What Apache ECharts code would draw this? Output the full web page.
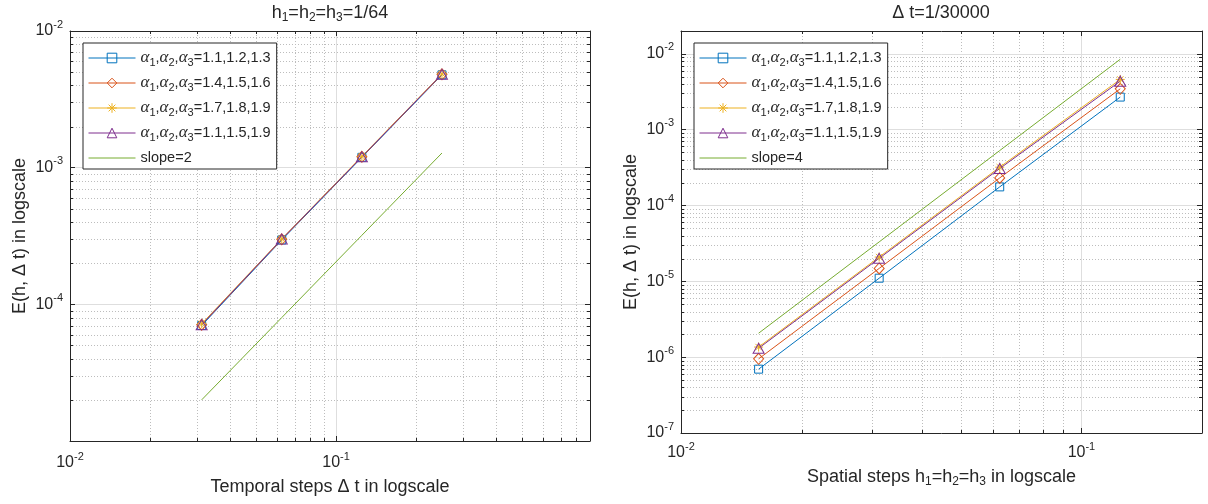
<!DOCTYPE html>
<html>
<head>
<meta charset="utf-8">
<script src="https://cdn.jsdelivr.net/npm/echarts@6/dist/echarts.min.js"></script>
<style>
  html, body { margin: 0; padding: 0; background: #fff; }
  #chart { width: 1208px; height: 504px; }
</style>
</head>
<body>
<div id="chart"></div>
<script>
// Convergence study: temporal order (left) and spatial order (right), log-log axes.

// ---- data ----
const dtSteps = [1 / 32, 1 / 16, 1 / 8, 1 / 4];          // temporal steps Δt
const hSteps  = [1 / 64, 1 / 32, 1 / 16, 1 / 8];          // spatial steps h1=h2=h3

const seriesNames = [
  'α1,α2,α3=1.1,1.2,1.3',
  'α1,α2,α3=1.4,1.5,1.6',
  'α1,α2,α3=1.7,1.8,1.9',
  'α1,α2,α3=1.1,1.5,1.9'
];

// errors vs Δt (h1=h2=h3=1/64)
const errDtA = [7.0e-5, 2.96e-4, 1.19e-3, 4.78e-3];
const errDtB = [7.1e-5, 2.99e-4, 1.20e-3, 4.82e-3];
const errDtC = [7.2e-5, 3.01e-4, 1.21e-3, 4.85e-3];
const errDtD = [7.1e-5, 3.00e-4, 1.20e-3, 4.83e-3];
const slope2Ref = [2.0e-5, 8.0e-5, 3.2e-4, 1.28e-3];

// errors vs h (Δt=1/30000)
const errHA = [6.95e-7, 1.10e-5, 1.76e-4, 2.69e-3];
const errHB = [9.5e-7, 1.48e-5, 2.31e-4, 3.46e-3];
const errHC = [1.36e-6, 2.09e-5, 3.20e-4, 4.60e-3];
const errHD = [1.31e-6, 2.01e-5, 3.07e-4, 4.36e-3];
const slope4Ref = [2.07e-6, 3.31e-5, 5.30e-4, 8.48e-3];

// axis ranges
const leftX = [0.01, 0.9], leftY = [1e-5, 1e-2];
const rightX = [0.01, 0.2], rightY = [1e-7, 2e-2];

// labelled decades (exponents of 10)
const leftXTicks = [-2, -1];
const leftYTicks = [-4, -3, -2];
const rightXTicks = [-2, -1];
const rightYTicks = [-7, -6, -5, -4, -3, -2];

// minor grid positions (2..9 within each decade)
const minorLeftX  = [0.02, 0.03, 0.04, 0.05, 0.06, 0.07, 0.08, 0.09, 0.2, 0.3, 0.4, 0.5, 0.6, 0.7, 0.8];
const minorLeftY  = [2e-5, 3e-5, 4e-5, 5e-5, 6e-5, 7e-5, 8e-5, 9e-5,
                     2e-4, 3e-4, 4e-4, 5e-4, 6e-4, 7e-4, 8e-4, 9e-4,
                     2e-3, 3e-3, 4e-3, 5e-3, 6e-3, 7e-3, 8e-3, 9e-3];
const minorRightX = [0.02, 0.03, 0.04, 0.05, 0.06, 0.07, 0.08, 0.09];
const minorRightY = [2e-7, 3e-7, 4e-7, 5e-7, 6e-7, 7e-7, 8e-7, 9e-7,
                     2e-6, 3e-6, 4e-6, 5e-6, 6e-6, 7e-6, 8e-6, 9e-6,
                     2e-5, 3e-5, 4e-5, 5e-5, 6e-5, 7e-5, 8e-5, 9e-5,
                     2e-4, 3e-4, 4e-4, 5e-4, 6e-4, 7e-4, 8e-4, 9e-4,
                     2e-3, 3e-3, 4e-3, 5e-3, 6e-3, 7e-3, 8e-3, 9e-3];

// ---- styling ----
const FONT = '"Liberation Sans", Arial, Helvetica, sans-serif';
const INK = '#262626';
const COLORS = ['#0072BD', '#D95319', '#EDB120', '#7E2F8E', '#77AC30'];
const STAR = 'path://M5 0L5 10M0 5L10 5M1.5 1.5L8.5 8.5M1.5 8.5L8.5 1.5';
const MARKERS = [
  { symbol: 'rect', size: 8 },
  { symbol: 'diamond', size: [10, 11] },
  { symbol: STAR, size: 9 },
  { symbol: 'triangle', size: [11, 10] }
];
const GRID_MAJOR = '#dedede';
const GRID_MINOR = '#bdbdbd';
const CLEAR = 'rgba(0,0,0,0)';

const subRich = {
  a: { fontFamily: '"Liberation Serif", serif', fontStyle: 'italic', fontSize: 17, color: INK },
  s: { fontSize: 11, lineHeight: 10, verticalAlign: 'bottom', color: INK }
};
const alphaText = name => name.replace(/α(\d)/g, '{a|α}{s|$1}');

function decadeFormatter(shown) {
  return function (v) {
    const e = Math.log10(v);
    const r = Math.round(e);
    if (Math.abs(e - r) > 1e-6 || shown.indexOf(r) < 0) return '';
    return '{b|10}{e|' + r + '}';
  };
}
const tickRich = {
  b: { fontSize: 16, lineHeight: 24, color: INK, fontFamily: FONT },
  e: { fontSize: 11, lineHeight: 11, verticalAlign: 'top', color: INK, fontFamily: FONT }
};

function logAxis(gridIndex, range, position, shown, extra, margin) {
  return Object.assign({
    type: 'log', logBase: 10, gridIndex, position,
    min: range[0], max: range[1],
    axisLine: { show: true, lineStyle: { color: INK, width: 1 } },
    axisTick: { show: true, inside: true, length: 5, lineStyle: { color: INK } },
    axisLabel: shown
      ? { show: true, formatter: decadeFormatter(shown), rich: tickRich, margin: margin || 7, hideOverlap: false }
      : { show: false },
    splitLine: shown
      ? { show: true, lineStyle: { color: GRID_MAJOR, width: 1 } }
      : { show: false },
    minorTick: { show: false },
    minorSplitLine: { show: false },
    z: 1
  }, extra || {});
}

function dataSeries(name, xs, ys, color, marker, xi, yi) {
  return {
    type: 'line', name,
    xAxisIndex: xi, yAxisIndex: yi,
    data: xs.map((x, i) => [x, ys[i]]),
    symbol: marker ? marker.symbol : 'none',
    symbolSize: marker ? marker.size : 0,
    showSymbol: !!marker,
    lineStyle: { color, width: 1 },
    itemStyle: { color: CLEAR, borderColor: color, borderWidth: 1 },
    emphasis: { disabled: true },
    animation: false,
    z: 3
  };
}

function legendData(extraName) {
  return seriesNames.map((n, i) => ({
    name: n,
    itemStyle: { color: CLEAR, borderColor: COLORS[i], borderWidth: 1 },
    lineStyle: { color: COLORS[i], width: 1 }
  })).concat([{
    name: extraName,
    itemStyle: { color: CLEAR, borderColor: CLEAR, borderWidth: 0 },
    lineStyle: { color: COLORS[4], width: 1 }
  }]);
}

function legendAt(left, top, extraName) {
  return {
    orient: 'vertical', left, top,
    data: legendData(extraName),
    selectedMode: false,
    itemWidth: 47, itemHeight: 12, itemGap: 5,
    padding: [5, 6, 1, 5],
    backgroundColor: '#fff', borderColor: INK, borderWidth: 1, borderRadius: 0,
    textStyle: { fontFamily: FONT, fontSize: 14.5, color: INK, lineHeight: 20, rich: subRich },
    formatter: alphaText,
    z: 10
  };
}

const nameStyle = {
  fontFamily: FONT, fontSize: 18, color: INK, lineHeight: 22,
  rich: { s: { fontSize: 12, lineHeight: 12, verticalAlign: 'bottom', color: INK, fontFamily: FONT } }
};

const option = {
  backgroundColor: '#fff',
  animation: false,
  textStyle: { fontFamily: FONT },
  grid: [
    { left: 70, top: 31, width: 520, height: 410, containLabel: false },
    { left: 681, top: 31, width: 521, height: 402, containLabel: false }
  ],
  xAxis: [
    logAxis(0, leftX, 'bottom', leftXTicks, {
      name: 'Temporal steps Δ t in logscale', nameLocation: 'middle', nameGap: 35, nameTextStyle: nameStyle
    }, 10),
    logAxis(0, leftX, 'top', null),
    logAxis(1, rightX, 'bottom', rightXTicks, {
      name: 'Spatial steps h{s|1}=h{s|2}=h{s|3} in logscale', nameLocation: 'middle', nameGap: 33, nameTextStyle: nameStyle
    }, 8),
    logAxis(1, rightX, 'top', null)
  ],
  yAxis: [
    logAxis(0, leftY, 'left', leftYTicks, {
      name: 'E(h, Δ t) in logscale', nameLocation: 'middle', nameGap: 39, nameRotate: 90, nameTextStyle: nameStyle
    }),
    logAxis(0, leftY, 'right', null),
    logAxis(1, rightY, 'left', rightYTicks, {
      name: 'E(h, Δ t) in logscale', nameLocation: 'middle', nameGap: 39, nameRotate: 90, nameTextStyle: nameStyle
    }),
    logAxis(1, rightY, 'right', null)
  ],
  legend: [legendAt(83, 43, 'slope=2'), legendAt(694, 43, 'slope=4')],
  series: [
    dataSeries(seriesNames[0], dtSteps, errDtA, COLORS[0], MARKERS[0], 0, 0),
    dataSeries(seriesNames[1], dtSteps, errDtB, COLORS[1], MARKERS[1], 0, 0),
    dataSeries(seriesNames[2], dtSteps, errDtC, COLORS[2], MARKERS[2], 0, 0),
    dataSeries(seriesNames[3], dtSteps, errDtD, COLORS[3], MARKERS[3], 0, 0),
    dataSeries('slope=2', dtSteps, slope2Ref, COLORS[4], null, 0, 0),
    dataSeries(seriesNames[0], hSteps, errHA, COLORS[0], MARKERS[0], 2, 2),
    dataSeries(seriesNames[1], hSteps, errHB, COLORS[1], MARKERS[1], 2, 2),
    dataSeries(seriesNames[2], hSteps, errHC, COLORS[2], MARKERS[2], 2, 2),
    dataSeries(seriesNames[3], hSteps, errHD, COLORS[3], MARKERS[3], 2, 2),
    dataSeries('slope=4', hSteps, slope4Ref, COLORS[4], null, 2, 2)
  ]
};

const chart = echarts.init(document.getElementById('chart'), null, { renderer: 'canvas' });
chart.setOption(option);

// Titles above each panel.
const titles = [
  {
    type: 'text', x: 330, y: 13, silent: true, z: 30,
    style: {
      text: 'h{s|1}=h{s|2}=h{s|3}=1/64', align: 'center', verticalAlign: 'middle',
      font: '18px ' + FONT, fill: INK, lineHeight: 22,
      rich: { s: { fontSize: 12, lineHeight: 12, verticalAlign: 'bottom', fill: INK, fontFamily: FONT } }
    }
  },
  {
    type: 'text', x: 941, y: 13, silent: true, z: 30,
    style: { text: 'Δ t=1/30000', align: 'center', verticalAlign: 'middle', font: '18px ' + FONT, fill: INK }
  }
];

// Dotted minor grid and short minor ticks on all four sides, placed through each grid's axes.
function minorMarks(xi, yi, xRange, yRange, xVals, yVals, len) {
  const out = [];
  const px = (x, y) => chart.convertToPixel({ xAxisIndex: xi, yAxisIndex: yi }, [x, y]);
  const bl = px(xRange[0], yRange[0]);
  const tr = px(xRange[1], yRange[1]);
  const tickSt = { stroke: INK, lineWidth: 1 };
  const gridSt = { stroke: GRID_MINOR, lineWidth: 1, lineDash: [1, 2] };
  xVals.forEach(v => {
    const x = Math.round(px(v, yRange[0])[0]) + 0.5;
    out.push({ type: 'line', silent: true, z: 0, shape: { x1: x, y1: bl[1], x2: x, y2: tr[1] }, style: gridSt });
    out.push({ type: 'line', silent: true, z: 20, shape: { x1: x, y1: bl[1], x2: x, y2: bl[1] - len }, style: tickSt });
    out.push({ type: 'line', silent: true, z: 20, shape: { x1: x, y1: tr[1], x2: x, y2: tr[1] + len }, style: tickSt });
  });
  yVals.forEach(v => {
    const y = Math.round(px(xRange[0], v)[1]) + 0.5;
    out.push({ type: 'line', silent: true, z: 0, shape: { x1: bl[0], y1: y, x2: tr[0], y2: y }, style: gridSt });
    out.push({ type: 'line', silent: true, z: 20, shape: { x1: bl[0], y1: y, x2: bl[0] + len, y2: y }, style: tickSt });
    out.push({ type: 'line', silent: true, z: 20, shape: { x1: tr[0], y1: y, x2: tr[0] - len, y2: y }, style: tickSt });
  });
  return out;
}

const marks = minorMarks(0, 0, leftX, leftY, minorLeftX, minorLeftY, 3)
  .concat(minorMarks(2, 2, rightX, rightY, minorRightX, minorRightY, 3));
chart.setOption({ graphic: titles.concat(marks) });
</script>
</body>
</html>
